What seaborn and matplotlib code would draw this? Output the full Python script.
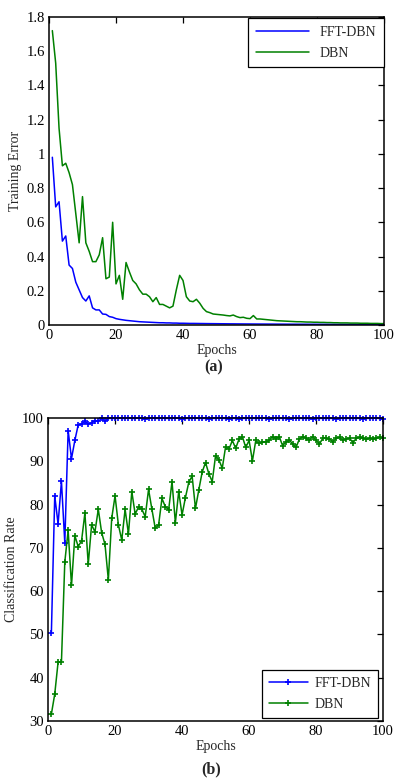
import numpy as np
import pandas as pd
import matplotlib
matplotlib.use("Agg")
import matplotlib.pyplot as plt
import seaborn as sns
from matplotlib.ticker import FormatStrFormatter

epochs = list(range(1, 101))

err_fft = [0.98, 0.69, 0.72, 0.49, 0.52, 0.35, 0.33, 0.25, 0.205, 0.16,
           0.14, 0.17, 0.10, 0.088, 0.088, 0.064, 0.062, 0.049, 0.045, 0.037,
           0.033, 0.030, 0.027, 0.025, 0.023, 0.021, 0.019, 0.018, 0.017, 0.016,
           0.015, 0.014, 0.013, 0.013, 0.012, 0.012, 0.011, 0.011, 0.010, 0.010,
           0.0095, 0.009, 0.009, 0.0088, 0.0085, 0.0083, 0.008, 0.0078, 0.0076, 0.0074,
           0.0072, 0.007, 0.0068, 0.0066, 0.0065, 0.0063, 0.0062, 0.006, 0.0059, 0.0058,
           0.0056, 0.0055, 0.0054, 0.0053, 0.0052, 0.0051, 0.005, 0.0049, 0.0048, 0.0047,
           0.0046, 0.0045, 0.0044, 0.0043, 0.0043, 0.0042, 0.0041, 0.004, 0.004, 0.0039,
           0.0038, 0.0038, 0.0037, 0.0036, 0.0036, 0.0035, 0.0035, 0.0034, 0.0034, 0.0033,
           0.0033, 0.0032, 0.0032, 0.0031, 0.0031, 0.0031, 0.003, 0.003, 0.003, 0.003]

err_dbn = [1.72, 1.53, 1.15, 0.93, 0.945, 0.89, 0.82, 0.65, 0.48, 0.75,
           0.48, 0.43, 0.37, 0.37, 0.41, 0.51, 0.27, 0.28, 0.60, 0.24,
           0.29, 0.15, 0.365, 0.31, 0.26, 0.24, 0.205, 0.18, 0.18, 0.165,
           0.136, 0.16, 0.12, 0.12, 0.11, 0.10, 0.11, 0.205, 0.29, 0.26,
           0.165, 0.14, 0.136, 0.15, 0.127, 0.097, 0.078, 0.072, 0.064, 0.062,
           0.060, 0.058, 0.055, 0.053, 0.058, 0.049, 0.043, 0.045, 0.039, 0.037,
           0.055, 0.035, 0.035, 0.033, 0.031, 0.029, 0.027, 0.025, 0.024, 0.023,
           0.022, 0.021, 0.020, 0.019, 0.019, 0.018, 0.017, 0.017, 0.016, 0.016,
           0.015, 0.015, 0.014, 0.014, 0.013, 0.013, 0.012, 0.012, 0.012, 0.011,
           0.011, 0.011, 0.010, 0.010, 0.010, 0.009, 0.009, 0.009, 0.008, 0.008]

acc_fft = [50.4, 82.0, 75.5, 85.4, 71.2, 97.1, 90.6, 94.8, 98.4, 98.6,
           99.2, 98.6, 98.9, 99.4, 99.2, 99.9, 99.3, 99.9, 99.9, 99.9,
           100.0, 99.9, 99.9, 100.0, 99.9, 99.9, 100.0, 99.9, 99.8, 99.9,
           100.0, 99.9, 99.9, 100.0, 99.9, 99.9, 99.9, 100.0, 99.9, 99.8,
           99.9, 99.9, 99.9, 100.0, 99.9, 99.9, 99.9, 99.8, 99.9, 99.9,
           100.0, 99.9, 99.9, 99.8, 99.9, 99.9, 99.8, 99.9, 99.9, 100.0,
           99.9, 99.9, 99.9, 100.0, 99.9, 99.8, 99.9, 100.0, 99.9, 99.9,
           99.9, 99.8, 99.9, 100.0, 99.9, 99.9, 99.9, 99.9, 99.8, 99.9,
           99.9, 99.9, 99.9, 99.9, 99.9, 99.8, 99.9, 99.9, 99.9, 99.9,
           99.9, 99.9, 99.9, 99.8, 99.9, 99.9, 99.9, 100.0, 99.9, 99.8]

acc_dbn = [31.6, 36.2, 43.6, 43.6, 66.7, 74.0, 61.3, 72.8, 70.3, 71.6,
           78.0, 66.2, 75.3, 73.7, 78.9, 73.5, 70.8, 62.6, 76.8, 82.0,
           75.3, 71.8, 78.9, 73.2, 83.0, 77.8, 79.4, 78.9, 77.2, 83.5,
           78.9, 74.5, 75.3, 81.4, 79.5, 78.8, 85.3, 75.8, 83.0, 77.6,
           81.6, 85.1, 86.6, 79.1, 83.4, 87.5, 89.7, 87.1, 85.3, 91.3,
           90.3, 88.4, 93.4, 92.8, 94.8, 93.0, 95.1, 95.7, 93.2, 94.8,
           90.1, 94.8, 94.1, 94.4, 94.5, 94.8, 95.7, 95.2, 95.7, 93.6,
           94.4, 94.9, 94.0, 93.2, 95.1, 95.7, 95.3, 94.9, 95.7, 94.8,
           94.0, 95.3, 95.3, 95.1, 94.5, 95.3, 95.5, 94.9, 95.2, 95.3,
           94.3, 95.3, 95.5, 95.3, 95.1, 95.3, 95.1, 95.3, 95.5, 95.3]

series_names = ["FFT-DBN", "DBN"]
colors = ["#0000ff", "#008000"]

sns.set_style("white")
plt.rcParams["font.family"] = ["Liberation Serif", "DejaVu Serif"]
plt.rcParams["font.size"] = 10
plt.rcParams["mathtext.fontset"] = "stix"

fig = plt.figure(figsize=(3.97, 7.84), dpi=100)
ax1 = fig.add_axes([0.1234, 0.5855, 0.844, 0.3929])
ax2 = fig.add_axes([0.121, 0.0804, 0.844, 0.3865])

def style(ax):
    for s in ax.spines.values():
        s.set_color("black")
        s.set_linewidth(1.1)
    ax.tick_params(direction="in", top=True, right=True, length=4, width=0.9,
                   labelsize=10.5, colors="black", pad=3)

# Panel (a)
for name, vals, c in zip(series_names, [err_fft, err_dbn], colors):
    sns.lineplot(x=epochs, y=vals, ax=ax1, color=c, linewidth=1.1, label=name)
ax1.set_xlim(0, 100)
ax1.set_ylim(0, 1.8)
ax1.set_xticks(range(0, 101, 20))
ax1.set_yticks(np.arange(0, 1.81, 0.2))
ax1.yaxis.set_major_formatter(FormatStrFormatter("%g"))
ax1.set_xlabel("Epochs", fontsize=10, labelpad=1)
ax1.set_ylabel("Training Error", fontsize=10, labelpad=3)
style(ax1)
leg1 = ax1.legend(loc="upper right", bbox_to_anchor=(1.0, 0.995), borderaxespad=0.0,
                  handlelength=3.8, fancybox=False, framealpha=1, edgecolor="black",
                  fontsize=10, borderpad=0.55, labelspacing=0.55)
leg1.get_frame().set_linewidth(0.9)
fig.text(0.537, 1 - 367 / 784, "(a)", ha="center", va="center", fontsize=11.5, fontweight="bold")

# Panel (b)
for name, vals, c in zip(series_names, [acc_fft, acc_dbn], colors):
    sns.lineplot(x=epochs, y=vals, ax=ax2, color=c, linewidth=1.1, marker="+",
                 markersize=5, markeredgewidth=1.2, markeredgecolor=c,
                 label=name, clip_on=False)
ax2.set_xlim(0, 100)
ax2.set_ylim(30, 100)
ax2.set_xticks(range(0, 101, 20))
ax2.set_yticks(range(30, 101, 10))
ax2.set_xlabel("Epochs", fontsize=10, labelpad=1)
ax2.set_ylabel("Classification Rate", fontsize=10, labelpad=3)
style(ax2)
leg2 = ax2.legend(loc="lower right", bbox_to_anchor=(0.985, 0.01), borderaxespad=0.0,
                  handlelength=2.8, handletextpad=0.5, fancybox=False, framealpha=1,
                  edgecolor="black", fontsize=10, borderpad=0.5, labelspacing=0.55)
leg2.get_frame().set_linewidth(0.9)
fig.text(0.532, 1 - 769 / 784, "(b)", ha="center", va="center", fontsize=11.5, fontweight="bold")

fig.savefig("out.png", dpi=100)
